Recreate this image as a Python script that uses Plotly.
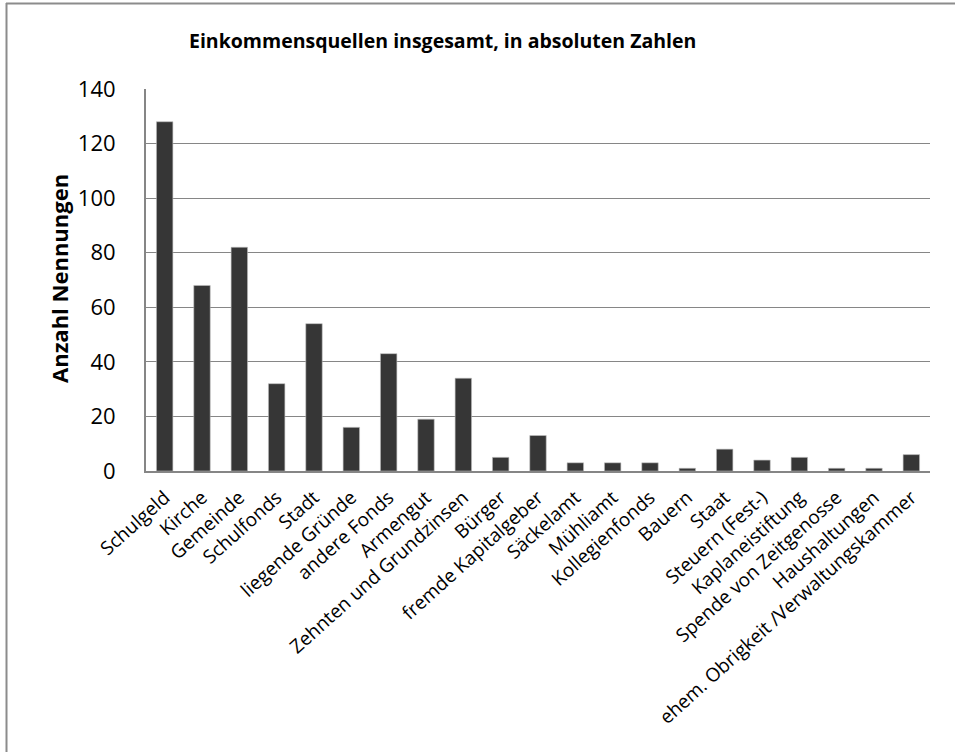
import plotly.graph_objects as go

categories = [
    "Schulgeld", "Kirche", "Gemeinde", "Schulfonds", "Stadt", "liegende Gründe",
    "andere Fonds", "Armengut", "Zehnten und Grundzinsen", "Bürger",
    "fremde Kapitalgeber", "Säckelamt", "Mühliamt", "Kollegienfonds", "Bauern",
    "Staat", "Steuern (Fest-)", "Kaplaneistiftung", "Spende von Zeitgenosse",
    "Haushaltungen", "ehem. Obrigkeit /Verwaltungskammer",
]
values = [128, 68, 82, 32, 54, 16, 43, 19, 34, 5, 13, 3, 3, 3, 1, 8, 4, 5, 1, 1, 6]
y_ticks = [0, 20, 40, 60, 80, 100, 120, 140]

FONT = "Open Sans"
W, H = 955, 752
L, R, T, B = 146, 930, 89, 471  # plot area in pixels

def px_x(px):
    return (px - L) / (R - L)

def px_y(py):
    return (B - py) / (B - T)

fig = go.Figure(
    go.Bar(
        x=categories,
        y=values,
        marker=dict(color="#363636", line=dict(color="#bdbdbd", width=0.6)),
        hoverinfo="x+y",
    )
)

fig.update_layout(
    width=W,
    height=H,
    margin=dict(l=L, r=W - R, t=T, b=H - B),
    paper_bgcolor="white",
    plot_bgcolor="white",
    bargap=0.56,
    showlegend=False,
    font=dict(family=FONT, color="black"),
)

fig.update_xaxes(
    type="category",
    tickangle=-42,
    tickfont=dict(size=19, family=FONT, color="black"),
    showline=True,
    linecolor="#868686",
    linewidth=2,
    ticks="outside",
    ticklen=6,
    tickcolor="rgba(0,0,0,0)",
    showgrid=False,
)

fig.update_yaxes(
    range=[0, 140],
    tickvals=y_ticks,
    tickfont=dict(size=22, family=FONT, color="black"),
    showline=True,
    linecolor="#868686",
    linewidth=2,
    showgrid=True,
    gridcolor="#868686",
    gridwidth=1.3,
    zeroline=False,
    ticks="",
    ticklabelstandoff=24,
)

fig.add_annotation(
    text="<b>Einkommensquellen insgesamt, in absoluten Zahlen</b>",
    xref="paper", yref="paper",
    x=px_x(442), y=px_y(40),
    xanchor="center", yanchor="middle",
    showarrow=False,
    font=dict(size=19.5, family=FONT, color="black"),
)

fig.add_annotation(
    text="<b>Anzahl Nennungen</b>",
    xref="paper", yref="paper",
    x=px_x(59), y=px_y(279),
    xanchor="center", yanchor="middle",
    textangle=-90,
    showarrow=False,
    font=dict(size=22, family=FONT, color="black"),
)

# outer chart border (top and left visible; right/bottom run off the image)
fig.add_shape(type="line", xref="paper", yref="paper",
              x0=px_x(6), x1=px_x(960), y0=px_y(3.5), y1=px_y(3.5),
              line=dict(color="#8c8c8c", width=2))
fig.add_shape(type="line", xref="paper", yref="paper",
              x0=px_x(6.5), x1=px_x(6.5), y0=px_y(3), y1=px_y(760),
              line=dict(color="#8c8c8c", width=2))

fig.write_html(
    "out.html",
    config={"displayModeBar": False},
    post_script="document.body.style.margin='0';document.body.style.overflow='hidden';",
)
